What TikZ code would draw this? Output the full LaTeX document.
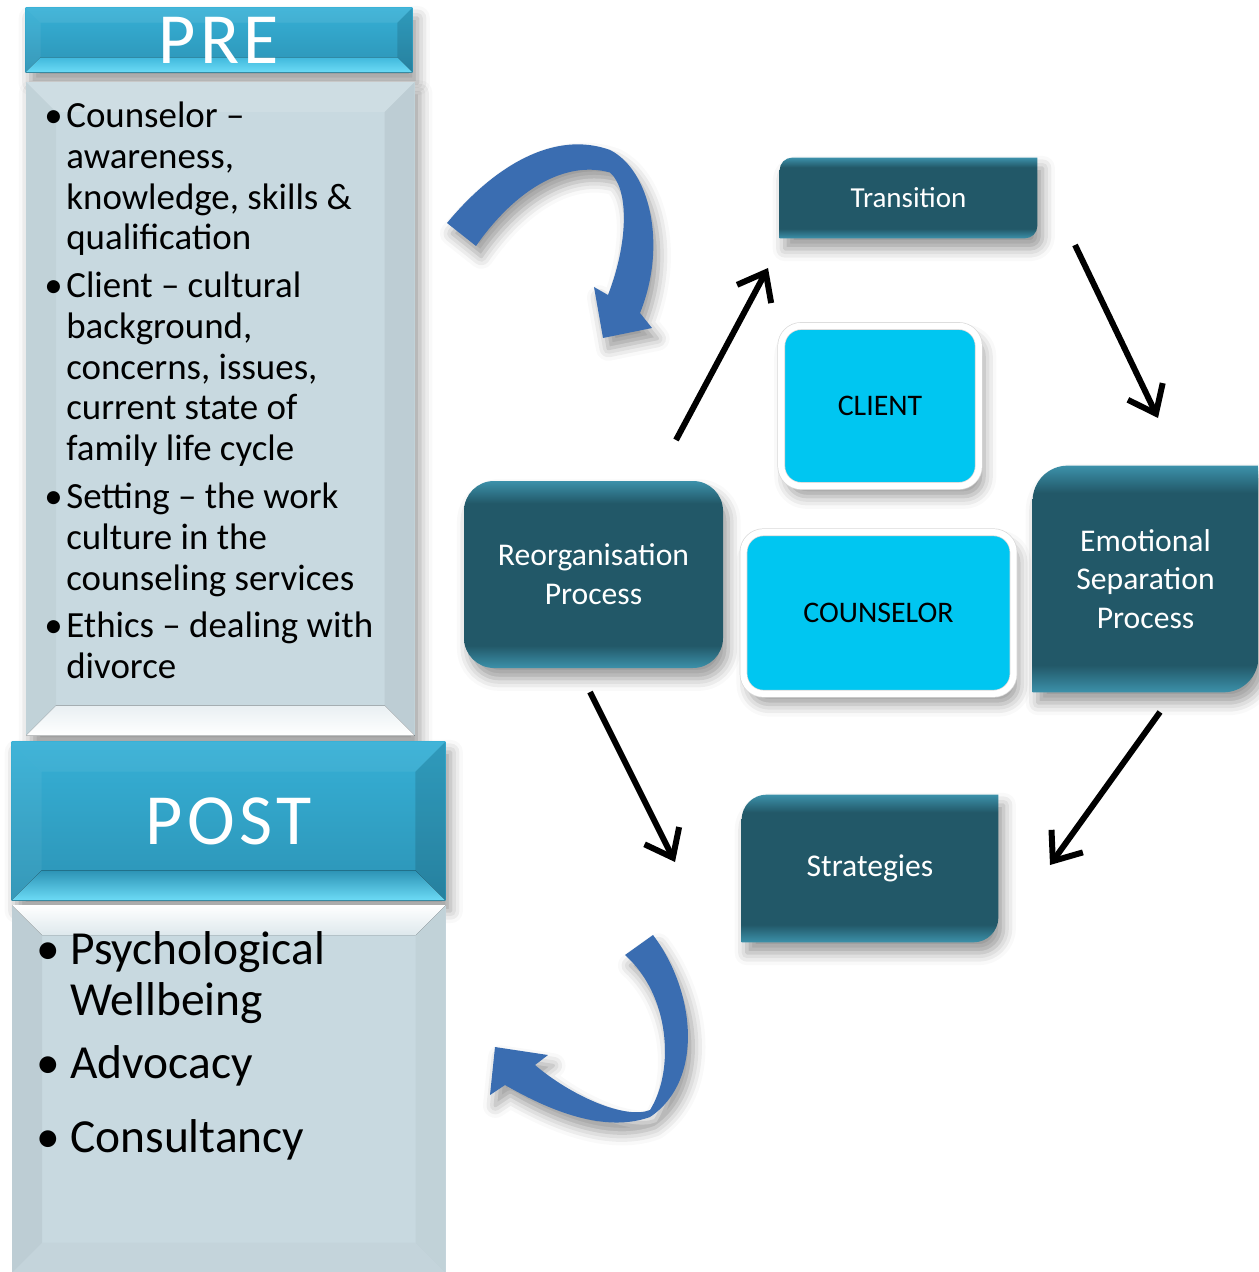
\documentclass[tikz,border=0pt]{standalone}
\usepackage{fontspec}
\setmainfont{Carlito}
\newfontfamily\titlefont[LetterSpace=6]{Carlito}
\usepackage{tikz}
\usetikzlibrary{positioning}
\usetikzlibrary{calc}
\usetikzlibrary{backgrounds}
\usetikzlibrary{arrows.meta}
\usetikzlibrary{shadows.blur}

\definecolor{tealdark}{HTML}{225868}
\definecolor{tealedge}{HTML}{3C91AA}
\definecolor{headblue}{HTML}{36B0D6}
\definecolor{headdeep}{HTML}{2C93B5}
\definecolor{headlight}{HTML}{6CDBF6}
\definecolor{bodygray}{HTML}{C8D9E0}
\definecolor{boxcyan}{HTML}{00C6F1}
\definecolor{ribbon}{HTML}{3A6DB1}

\pgfdeclareverticalshading{tealbox}{100bp}{color(0bp)=(tealedge); color(25bp)=(tealedge);
  color(31bp)=(tealdark); color(69bp)=(tealdark); color(75bp)=(tealedge); color(100bp)=(tealedge)}

% bevelled edges of a box: node, depth, top, right, bottom, left
\newcommand{\bevel}[6]{%
  \fill[#3] (#1.north west) -- (#1.north east) -- ($(#1.north east)+(-#2,-#2)$) -- ($(#1.north west)+(#2,-#2)$) -- cycle;
  \fill[#4] (#1.north east) -- (#1.south east) -- ($(#1.south east)+(-#2,#2)$) -- ($(#1.north east)+(-#2,-#2)$) -- cycle;
  \fill[#5] (#1.south east) -- (#1.south west) -- ($(#1.south west)+(#2,#2)$) -- ($(#1.south east)+(-#2,#2)$) -- cycle;
  \fill[#6] (#1.south west) -- (#1.north west) -- ($(#1.north west)+(#2,-#2)$) -- ($(#1.south west)+(#2,#2)$) -- cycle;}

% box with round top left and bottom right corners
\newcommand{\diagfill}[2]{%
  \shade[shading=tealbox, softshadow] (#1.south west) -- ($(#1.north west)+(0,-#2)$)
    arc[start angle=180, end angle=90, radius=#2] -- (#1.north east) -- ($(#1.south east)+(0,#2)$)
    arc[start angle=0, end angle=-90, radius=#2] -- cycle;}

\begin{document}
\begin{tikzpicture}[
headbox/.style={
rectangle,
inner sep=0pt,
text=white,
font=\titlefont\fontsize{41}{41}\selectfont},
listbox/.style={rectangle, inner sep=0pt, anchor=north west},
stagebox/.style={
rectangle,
inner sep=0pt,
align=center,
text=white,
font=\fontsize{18}{22}\selectfont},
corebox/.style={
rectangle,
rounded corners=0.4cm,
draw=black!15,
double=white,
double distance=3.6pt,
fill=boxcyan,
softshadow,
font=\fontsize{17}{20}\selectfont},
softshadow/.style={blur shadow={shadow xshift=3pt, shadow yshift=-6pt, shadow blur radius=7pt, shadow opacity=40}},
flowarrow/.style={-{Straight Barb[length=14pt,width=22pt]}, line width=3.4pt}
]
\useasboundingbox (0,0) rectangle (25.16,-25.44);

% left column
\node[headbox, minimum width=7.72cm, minimum height=1.28cm] (pre) at (4.38,-0.80) {PRE};
\node[listbox] (prelist) at (0.52,-1.64) {\parbox[c][13.06cm][t]{7.76cm}{\fontsize{21}{23.2}\selectfont\vspace*{9.5pt}%
\hspace*{0.36cm}\begin{tabular}[t]{@{}l@{}l@{}}
\makebox[0.44cm][l]{\textbullet} & Counselor –\\
 & awareness,\\
 & knowledge, skills \&\\
 & qualification\\[4pt]
\textbullet & Client – cultural\\
 & background,\\
 & concerns, issues,\\
 & current state of\\
 & family life cycle\\[4pt]
\textbullet & Setting – the work\\
 & culture in the\\
 & counseling services\\[4pt]
\textbullet & Ethics – dealing with\\
 & divorce
\end{tabular}}};
\node[headbox, minimum width=8.66cm, minimum height=3.16cm] (post) at (4.57,-16.42) {POST};
\node[listbox] (postlist) at (0.24,-18.1) {\parbox[c][7.34cm][t]{8.66cm}{\fontsize{27}{28.9}\selectfont\vspace*{13.5pt}%
\hspace*{0.48cm}\begin{tabular}[t]{@{}l@{}l@{}}
\makebox[0.68cm][l]{\textbullet} & Psychological\\
 & Wellbeing\\[6.8pt]
\textbullet & Advocacy\\[13.6pt]
\textbullet & Consultancy
\end{tabular}}};

% cycle
\node[stagebox, minimum width=5.14cm, minimum height=1.6cm, font=\fontsize{16.5}{20}\selectfont] (trans) at (18.17,-3.96) {Transition};
\node[stagebox, minimum width=4.5cm, minimum height=4.52cm] (emo) at (22.91,-11.58) {Emotional\\Separation\\Process};
\node[stagebox, minimum width=5.12cm, minimum height=2.94cm] (strat) at (17.4,-17.37) {Strategies};
\node[stagebox, minimum width=5.18cm, minimum height=3.74cm, rounded corners=0.6cm, shade, shading=tealbox, softshadow] (reorg) at (11.87,-11.49) {Reorganisation\\Process};
\node[corebox, minimum width=3.95cm, minimum height=3.2cm] (client) at (17.6,-8.12) {CLIENT};
\node[corebox, minimum width=5.4cm, minimum height=3.23cm] (couns) at (17.57,-12.26) {COUNSELOR};

\coordinate (r1) at (13.52,-8.8);
\coordinate (t1) at (15.36,-5.36);
\coordinate (t2) at (21.5,-4.9);
\coordinate (e1) at (23.16,-8.36);
\coordinate (e2) at (23.2,-14.24);
\coordinate (s1) at (21.0,-17.3);
\coordinate (r2) at (11.8,-13.84);
\coordinate (s2) at (13.5,-17.24);
\foreach \i/\j in {r1/t1, t2/e1, e2/s1, r2/s2}
  \draw[flowarrow] (\i) -- (\j);

% ribbon arrows
\fill[ribbon, softshadow] (8.94,-4.46) .. controls (9.9,-3.3) and (11.1,-2.6) .. (12.2,-3.0)
  .. controls (13.0,-3.4) and (13.35,-4.9) .. (12.8,-6.26) -- (13.04,-6.56) -- (12.06,-6.76)
  -- (11.88,-5.74) -- (12.16,-5.9) .. controls (12.55,-4.9) and (12.6,-3.8) .. (12.2,-3.45)
  .. controls (11.3,-3.2) and (10.3,-3.8) .. (9.52,-4.92) -- cycle;
\fill[ribbon, softshadow] (12.5,-19.1) -- (13.06,-18.7) .. controls (13.9,-19.8) and (14.1,-21.6) .. (13.0,-22.34)
  .. controls (12.0,-22.7) and (10.8,-22.1) .. (10.1,-21.7) -- (9.8,-21.9) -- (9.9,-20.94)
  -- (10.96,-21.1) -- (10.7,-21.3) .. controls (11.4,-21.9) and (12.5,-22.4) .. (13.0,-22.2)
  .. controls (13.5,-21.4) and (13.4,-19.9) .. (12.5,-19.1) -- cycle;

\begin{scope}[on background layer]
\fill[top color=headblue, bottom color=headdeep, softshadow] (pre.north west) rectangle (pre.south east);
\bevel{pre}{0.3}{fill=white,opacity=.08}{fill=black,opacity=.12}{top color=headblue!80!headlight,bottom color=headlight}{fill=white,opacity=.06}
\fill[bodygray, softshadow] (prelist.north west) rectangle (prelist.south east);
\bevel{prelist}{0.6}{fill=white,opacity=.12}{fill=black,opacity=.05}{top color=bodygray!40!white,bottom color=white}{fill=black,opacity=.03}
\fill[top color=headblue, bottom color=headdeep, softshadow] (post.north west) rectangle (post.south east);
\bevel{post}{0.6}{fill=white,opacity=.06}{fill=black,opacity=.12}{top color=headdeep,bottom color=headlight}{fill=white,opacity=.05}
\fill[bodygray] (postlist.north west) rectangle (postlist.south east);
\bevel{postlist}{0.6}{top color=white,bottom color=bodygray!60!white}{fill=black,opacity=.03}{fill=black,opacity=.02}{fill=black,opacity=.05}
\diagfill{trans}{0.25}
\diagfill{emo}{0.7}
\diagfill{strat}{0.5}
\end{scope}
\end{tikzpicture}
\end{document}
